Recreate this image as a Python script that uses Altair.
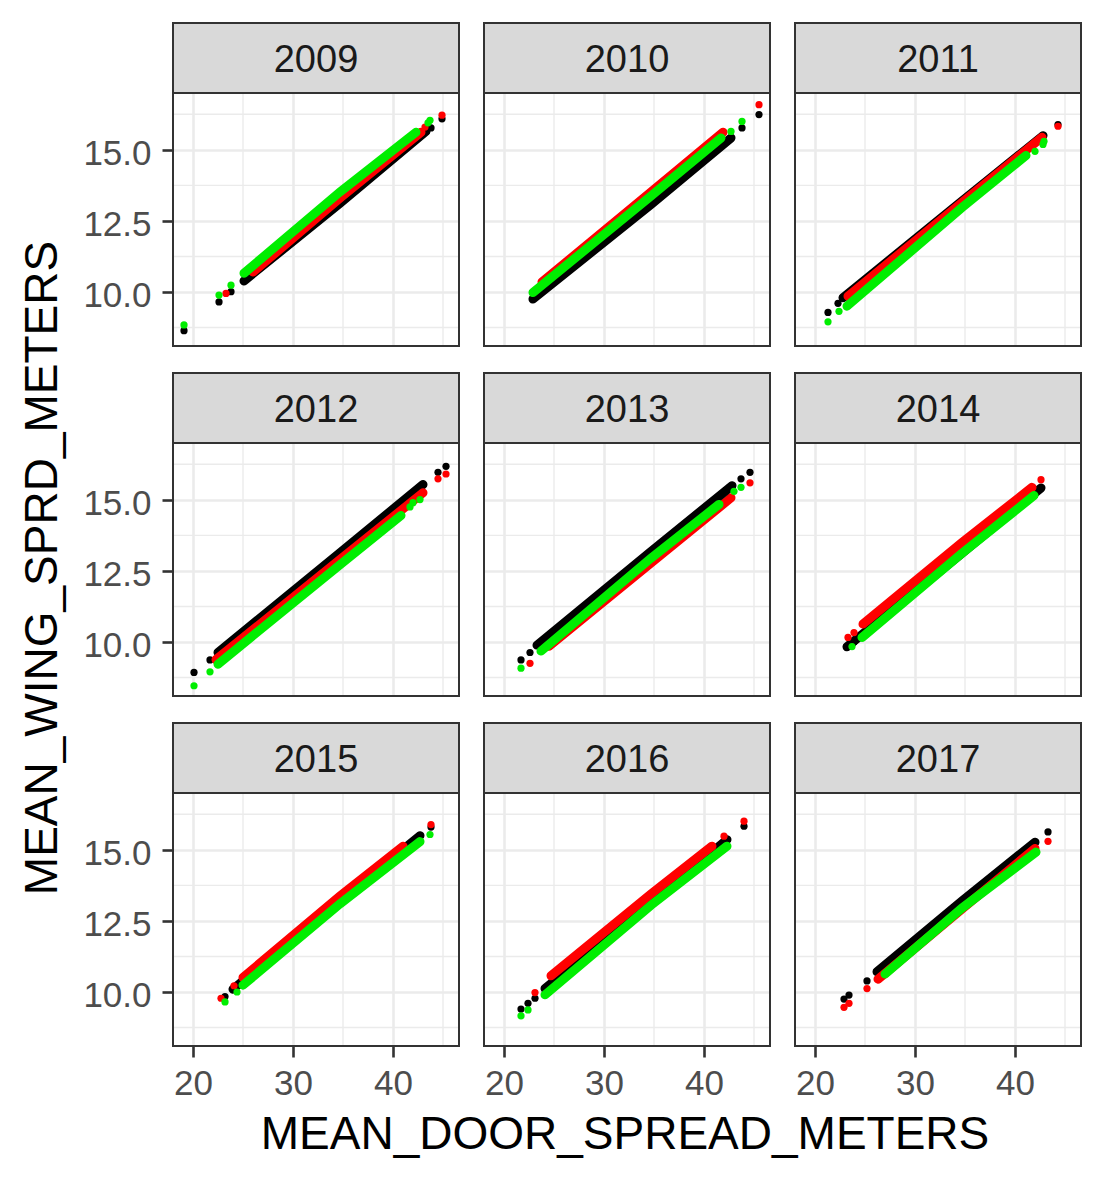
import altair as alt
import pandas as pd

FONT = "Liberation Sans"
X_TITLE = "MEAN_DOOR_SPREAD_METERS"
Y_TITLE = "MEAN_WING_SPRD_METERS"
YEARS = [2009, 2010, 2011, 2012, 2013, 2014, 2015, 2016, 2017]
X_DOMAIN = [18.0, 46.6]
Y_DOMAIN = [8.1, 17.0]
X_TICKS = [20, 30, 40]
Y_TICKS = [10.0, 12.5, 15.0]
X_MINOR = [25, 35, 45]
Y_MINOR = [8.75, 11.25, 13.75, 16.25]
COLORS = {"black": "#000000", "red": "#FF0000", "green": "#00EE00"}

# ---- dense bands (x, y) and isolated points ----
BAND_2009_BLACK = [(25.1, 10.39), (34.7, 13.12), (43.3, 15.65)]
EXTRA_2009_BLACK = [(19.1, 8.64), (22.6, 9.65), (23.8, 10.01), (43.8, 15.77), (44.9, 16.09)]
BAND_2009_RED = [(26.0, 10.70), (34.7, 13.30), (42.8, 15.62)]
EXTRA_2009_RED = [(23.3, 9.95), (43.2, 15.80), (44.9, 16.22)]
BAND_2009_GREEN = [(25.1, 10.66), (34.7, 13.52), (42.3, 15.62)]
EXTRA_2009_GREEN = [(19.1, 8.84), (22.6, 9.89), (23.8, 10.24), (43.5, 15.95), (43.7, 16.04)]

BAND_2010_BLACK = [(22.9, 9.75), (34.7, 13.08), (42.7, 15.42)]
EXTRA_2010_BLACK = [(43.8, 15.77), (45.5, 16.24)]
BAND_2010_RED = [(23.8, 10.35), (34.7, 13.52), (41.9, 15.62)]
EXTRA_2010_RED = [(45.5, 16.59)]
BAND_2010_GREEN = [(22.9, 9.98), (34.7, 13.38), (41.7, 15.42)]
EXTRA_2010_GREEN = [(42.7, 15.65), (43.8, 16.0)]

BAND_2011_BLACK = [(22.8, 9.80), (34.7, 13.20), (42.8, 15.50)]
EXTRA_2011_BLACK = [(21.3, 9.28), (22.3, 9.60), (44.3, 15.89)]
BAND_2011_RED = [(23.3, 9.85), (34.7, 13.15), (42.7, 15.44)]
EXTRA_2011_RED = [(44.3, 15.83)]
BAND_2011_GREEN = [(23.2, 9.50), (34.7, 12.97), (41.1, 14.80)]
EXTRA_2011_GREEN = [(21.3, 8.95), (22.4, 9.32), (42.0, 14.95), (42.8, 15.19), (42.9, 15.30)]

BAND_2012_BLACK = [(22.5, 9.63), (34.7, 13.14), (43.0, 15.54)]
EXTRA_2012_BLACK = [(20.1, 8.93), (21.7, 9.37), (44.5, 15.97), (45.3, 16.18)]
BAND_2012_RED = [(22.3, 9.38), (34.7, 12.90), (43.0, 15.25)]
EXTRA_2012_RED = [(44.5, 15.74), (45.3, 15.91)]
BAND_2012_GREEN = [(22.5, 9.22), (34.7, 12.72), (40.8, 14.45)]
EXTRA_2012_GREEN = [(20.1, 8.46), (21.7, 8.95), (41.7, 14.75), (42.0, 14.90), (42.7, 15.01)]

BAND_2013_BLACK = [(23.3, 9.89), (34.7, 13.18), (42.8, 15.50)]
EXTRA_2013_BLACK = [(21.7, 9.37), (22.6, 9.63), (43.7, 15.74), (44.6, 15.97)]
BAND_2013_RED = [(24.5, 9.85), (34.7, 12.78), (42.7, 15.07)]
EXTRA_2013_RED = [(22.6, 9.25), (44.6, 15.60)]
BAND_2013_GREEN = [(23.7, 9.68), (34.7, 12.95), (41.5, 14.84)]
EXTRA_2013_GREEN = [(21.7, 9.08), (43.0, 15.30), (43.7, 15.44)]

BAND_2014_BLACK = [(23.2, 9.83), (34.7, 13.12), (42.6, 15.42)]
EXTRA_2014_BLACK = [(23.9, 10.0)]
BAND_2014_RED = [(24.8, 10.63), (34.7, 13.50), (41.7, 15.44)]
EXTRA_2014_RED = [(23.3, 10.16), (23.9, 10.33), (42.6, 15.71)]
BAND_2014_GREEN = [(24.7, 10.16), (34.7, 13.12), (41.9, 15.15)]
EXTRA_2014_GREEN = [(23.7, 9.84)]

BAND_2015_BLACK = [(24.0, 10.10), (34.7, 13.20), (42.7, 15.50)]
EXTRA_2015_BLACK = [(23.2, 9.84), (43.8, 15.80)]
BAND_2015_RED = [(25.0, 10.51), (34.7, 13.38), (41.0, 15.13)]
EXTRA_2015_RED = [(22.8, 9.78), (24.1, 10.22), (43.8, 15.89)]
BAND_2015_GREEN = [(25.0, 10.24), (34.7, 13.10), (42.7, 15.29)]
EXTRA_2015_GREEN = [(23.2, 9.65), (24.4, 10.0), (43.7, 15.54)]

BAND_2016_BLACK = [(24.1, 10.12), (34.7, 13.15), (42.3, 15.36)]
EXTRA_2016_BLACK = [(21.7, 9.40), (22.4, 9.60), (23.1, 9.78), (44.0, 15.83)]
BAND_2016_RED = [(24.7, 10.57), (34.7, 13.45), (40.8, 15.13)]
EXTRA_2016_RED = [(23.1, 9.98), (42.0, 15.48), (44.0, 16.01)]
BAND_2016_GREEN = [(24.1, 9.90), (34.7, 13.05), (42.3, 15.13)]
EXTRA_2016_GREEN = [(21.7, 9.16), (22.4, 9.37)]

BAND_2017_BLACK = [(26.2, 10.71), (34.7, 13.20), (42.0, 15.27)]
EXTRA_2017_BLACK = [(22.9, 9.75), (23.4, 9.89), (25.2, 10.39), (43.3, 15.63)]
BAND_2017_RED = [(26.3, 10.45), (34.7, 12.92), (42.0, 15.05)]
EXTRA_2017_RED = [(22.9, 9.46), (23.4, 9.60), (25.2, 10.12), (43.3, 15.30)]
BAND_2017_GREEN = [(27.0, 10.63), (34.7, 12.95), (42.1, 14.92)]
EXTRA_2017_GREEN = []

DRAW_ORDER = {
    2009: ["black", "red", "green"], 2010: ["black", "red", "green"],
    2011: ["black", "red", "green"], 2012: ["black", "red", "green"],
    2013: ["red", "black", "green"], 2014: ["black", "red", "green"],
    2015: ["black", "red", "green"], 2016: ["black", "red", "green"],
    2017: ["black", "red", "green"],
}

PW, PH, STRIP_H = 286, 253, 70
LABEL_SIZE = 35


def series_frames(year, name):
    band = globals()[f"BAND_{year}_{name.upper()}"]
    extra = globals()[f"EXTRA_{year}_{name.upper()}"]
    band_df = pd.DataFrame(band, columns=["x", "y"])
    pts_df = pd.DataFrame(band + extra, columns=["x", "y"])
    return band_df, pts_df


def panel(i, year):
    row, col = divmod(i, 3)
    show_x = row == 2
    show_y = col == 0
    xs = alt.Scale(domain=X_DOMAIN, nice=False, zero=False)
    ys = alt.Scale(domain=Y_DOMAIN, nice=False, zero=False)
    xaxis = alt.Axis(values=X_TICKS, title=None, grid=True, gridColor="#EBEBEB",
                     gridWidth=2.6, domain=False, labels=show_x, ticks=show_x,
                     tickColor="#333333", tickWidth=2.6, tickSize=11,
                     labelFontSize=LABEL_SIZE, labelFont=FONT, labelColor="#4D4D4D",
                     labelPadding=9, labelFlush=False, labelOverlap=False)
    yaxis = alt.Axis(values=Y_TICKS, title=None, format=".1f", grid=True,
                     gridColor="#EBEBEB", gridWidth=2.6, domain=False,
                     labels=show_y, ticks=show_y, tickColor="#333333",
                     tickWidth=2.6, tickSize=11, labelFontSize=LABEL_SIZE,
                     labelFont=FONT, labelColor="#4D4D4D", labelPadding=11,
                     labelOffset=4, labelFlush=False, labelOverlap=False)
    X = alt.X("x:Q", scale=xs, axis=xaxis)
    Y = alt.Y("y:Q", scale=ys, axis=yaxis)

    layers = [
        alt.Chart(pd.DataFrame({"x": X_MINOR})).mark_rule(color="#EBEBEB", strokeWidth=1.4).encode(x=X),
        alt.Chart(pd.DataFrame({"y": Y_MINOR})).mark_rule(color="#EBEBEB", strokeWidth=1.4).encode(y=Y),
    ]
    for name in DRAW_ORDER[year]:
        band_df, pts_df = series_frames(year, name)
        c = COLORS[name]
        layers.append(alt.Chart(band_df).mark_line(color=c, strokeWidth=9, strokeCap="round").encode(x=X, y=Y))
        layers.append(alt.Chart(pts_df).mark_circle(color=c, size=52, opacity=1).encode(x=X, y=Y))

    lab = pd.DataFrame({"label": [str(year)]})
    layers.append(alt.Chart(lab).mark_rect(fill=None, stroke="#333333", strokeWidth=2).encode(
        x=alt.value(0), x2=alt.value(PW), y=alt.value(0), y2=alt.value(PH)))
    layers.append(alt.Chart(lab).mark_rect(fill="#D9D9D9", stroke="#333333", strokeWidth=2).encode(
        x=alt.value(0), x2=alt.value(PW), y=alt.value(-STRIP_H), y2=alt.value(0)))
    layers.append(alt.Chart(lab).mark_text(font=FONT, fontSize=38, color="#1A1A1A",
                                           baseline="middle", align="center").encode(
        x=alt.value(PW / 2), y=alt.value(-STRIP_H / 2 + 3), text="label:N"))
    return alt.layer(*layers).properties(width=PW, height=PH)


panels = [panel(i, y) for i, y in enumerate(YEARS)]
rows = [alt.hconcat(*panels[r * 3:(r + 1) * 3], spacing=23) for r in range(3)]
grid_rows = alt.vconcat(*rows, spacing=25)

xtitle = alt.Chart(pd.DataFrame({"t": [X_TITLE]})).mark_text(
    font=FONT, fontSize=46, color="#000000", baseline="alphabetic", align="center"
).encode(x=alt.value(3 * PW / 2 + 23), y=alt.value(43), text="t:N").properties(
    width=3 * PW + 46, height=60)

grid = alt.vconcat(grid_rows, xtitle, spacing=5)

ytitle = alt.Chart(pd.DataFrame({"t": [Y_TITLE]})).mark_text(
    font=FONT, fontSize=46, color="#000000", baseline="alphabetic", align="center", angle=270
).encode(x=alt.value(44), y=alt.value(475), text="t:N").properties(
    width=60, height=3 * (PH + STRIP_H) + 50)

chart = alt.hconcat(ytitle, grid, spacing=9).properties(
    padding={"left": 5, "top": 14, "right": 5, "bottom": 5}, background="white"
).configure_view(strokeWidth=0)

chart.save("out.html", embed_options={"renderer": "svg", "actions": False})
